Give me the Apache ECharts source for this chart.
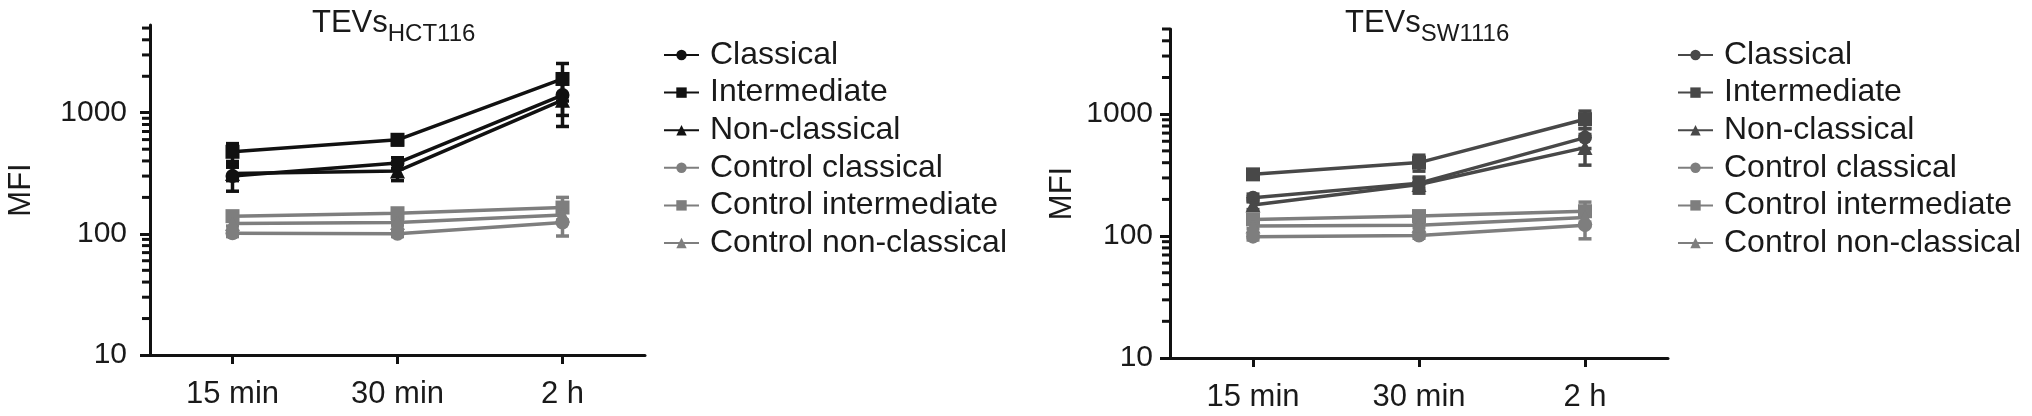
<!DOCTYPE html>
<html><head><meta charset="utf-8">
<script src="https://cdn.jsdelivr.net/npm/echarts@6/dist/echarts.min.js"></script>
<style>html,body{margin:0;padding:0;background:#fff}#c{width:2032px;height:416px}</style>
</head><body><div id="c"></div>
<script>
// ---------- data ----------
const categories = ['15 min', '30 min', '2 h'];
const seriesNames = ['Classical', 'Intermediate', 'Non-classical', 'Control classical', 'Control intermediate', 'Control non-classical'];
const yTickValues = [10, 100, 1000];
const yMinorTickValues = [20, 30, 40, 50, 60, 70, 80, 90, 200, 300, 400, 500, 600, 700, 800, 900, 2000, 3000, 4000, 5000];

// TEVs HCT116 (mean, error)
const hctClassical = [300, 385, 1400];
const hctClassicalErr = [75, 40, 450];
const hctIntermediate = [476, 598, 1900];
const hctIntermediateErr = [80, 55, 650];
const hctNonClassical = [315, 330, 1270];
const hctNonClassicalErr = [40, 55, 500];
const hctCtrlClassical = [101, 100, 124];
const hctCtrlClassicalErr = [6, 5, 28];
const hctCtrlIntermediate = [140, 148, 165];
const hctCtrlIntermediateErr = [8, 8, 35];
const hctCtrlNonClassical = [122, 124, 143];
const hctCtrlNonClassicalErr = [6, 6, 20];

// TEVs SW1116 (mean, error)
const swClassical = [206, 272, 643];
const swClassicalErr = [15, 25, 120];
const swIntermediate = [321, 401, 910];
const swIntermediateErr = [25, 60, 150];
const swNonClassical = [180, 265, 532];
const swNonClassicalErr = [15, 40, 150];
const swCtrlClassical = [99, 101, 123];
const swCtrlClassicalErr = [6, 5, 28];
const swCtrlIntermediate = [137, 146, 160];
const swCtrlIntermediateErr = [8, 8, 30];
const swCtrlNonClassical = [121, 123, 142];
const swCtrlNonClassicalErr = [6, 6, 20];

// ---------- styling ----------
const FONT = 'Liberation Sans, Arial, Helvetica, sans-serif';
const TXT = '#1a1a1a';
const AX = '#111';
const symbols = ['circle', 'rect', 'triangle', 'circle', 'rect', 'triangle'];
const panels = [
  {
    prefix: '', sub: 'HCT116',
    values: [hctClassical, hctIntermediate, hctNonClassical, hctCtrlClassical, hctCtrlIntermediate, hctCtrlNonClassical],
    errors: [hctClassicalErr, hctIntermediateErr, hctNonClassicalErr, hctCtrlClassicalErr, hctCtrlIntermediateErr, hctCtrlNonClassicalErr],
    colors: ['#111111', '#111111', '#111111', '#7e7e7e', '#7e7e7e', '#7e7e7e'],
    grid: {left: 150, top: 25, width: 495, height: 330},
    yMax: 5300, nameGap: 113, labelMargin: 23,
    titleLeft: 312, legendLeft: 658
  },
  {
    prefix: 'SW1116 | ', sub: 'SW1116',
    values: [swClassical, swIntermediate, swNonClassical, swCtrlClassical, swCtrlIntermediate, swCtrlNonClassical],
    errors: [swClassicalErr, swIntermediateErr, swNonClassicalErr, swCtrlClassicalErr, swCtrlIntermediateErr, swCtrlNonClassicalErr],
    colors: ['#484848', '#484848', '#484848', '#7e7e7e', '#7e7e7e', '#7e7e7e'],
    grid: {left: 1170, top: 29, width: 498, height: 329},
    yMax: 5000, nameGap: 92, labelMargin: 17,
    titleLeft: 1345, legendLeft: 1672
  }
];

const option = {
  animation: false,
  backgroundColor: '#fff',
  title: [], grid: [], xAxis: [], yAxis: [], legend: [], series: []
};

panels.forEach((p, pi) => {
  option.grid.push(Object.assign({containLabel: false}, p.grid));
  option.title.push({
    text: '{a|TEVs}{b|' + p.sub + '}',
    left: p.titleLeft, top: 8, padding: 0,
    textStyle: {
      fontWeight: 'normal',
      rich: {
        a: {fontSize: 31, fontFamily: FONT, fontWeight: 'normal', color: TXT, verticalAlign: 'top'},
        b: {fontSize: 24, fontFamily: FONT, fontWeight: 'normal', color: TXT, verticalAlign: 'top', padding: [14, 0, 0, 0]}
      }
    }
  });
  option.xAxis.push({
    type: 'category', gridIndex: pi, data: categories, boundaryGap: true,
    axisLine: {show: true, lineStyle: {color: AX, width: 3}},
    axisTick: {show: true, alignWithLabel: true, length: 9, lineStyle: {color: AX, width: 3}},
    axisLabel: {fontSize: 31, fontFamily: FONT, color: TXT, margin: 24},
    splitLine: {show: false}
  });
  option.yAxis.push({
    type: 'log', logBase: 10, gridIndex: pi, position: 'left', min: 10, max: p.yMax,
    name: 'MFI', nameLocation: 'middle', nameGap: p.nameGap,
    nameTextStyle: {fontSize: 31, fontFamily: FONT, color: TXT},
    axisLine: {show: true, lineStyle: {color: AX, width: 3}},
    axisTick: {show: true, length: 10, customValues: yTickValues, lineStyle: {color: AX, width: 3}},
    axisLabel: {show: true, customValues: yTickValues, fontSize: 30, fontFamily: FONT, color: TXT,
      margin: p.labelMargin, formatter: (v) => String(Math.round(v))},
    splitLine: {show: false}
  });
  const names = seriesNames.map(n => p.prefix + n);
  option.legend.push({
    data: names, orient: 'vertical', left: p.legendLeft, top: 34,
    itemWidth: 35, itemHeight: 13, itemGap: 5.6, selectedMode: false,
    formatter: (name) => name.replace(p.prefix, ''),
    textStyle: {fontSize: 32, fontFamily: FONT, color: TXT, lineHeight: 30, padding: [0, 0, 0, 6]}
  });
  // minor ticks on the log axis, positioned by the axis scale
  option.series.push({
    type: 'custom', name: 'minor ticks ' + pi, xAxisIndex: pi, yAxisIndex: pi, z: 5, silent: true, clip: false,
    data: yMinorTickValues.filter(v => v <= p.yMax).map(v => [0, v]),
    encode: {x: 0, y: 1},
    renderItem: (params, api) => {
      const v = api.value(1);
      const c = api.coord([0, v]);
      const bw = api.size([1, 1], [0, v])[0];
      const x0 = c[0] - bw / 2;
      return {type: 'line', shape: {x1: x0 - 8, y1: c[1], x2: x0, y2: c[1]}, style: {stroke: AX, lineWidth: 3}};
    }
  });
  names.forEach((name, si) => {
    const col = p.colors[si];
    const vals = p.values[si];
    const errs = p.errors[si];
    option.series.push({
      type: 'custom', name: 'err ' + name, xAxisIndex: pi, yAxisIndex: pi, z: 2, silent: true, clip: false,
      data: vals.map((v, i) => [i, v, errs[i]]),
      encode: {x: 0, y: 1},
      renderItem: (params, api) => {
        const x = api.value(0), m = api.value(1), e = api.value(2);
        const t = api.coord([x, m + e]);
        const b = api.coord([x, Math.max(m - e, 10.0001)]);
        const hw = 6.5;
        const st = {stroke: col, lineWidth: 3.5};
        return {type: 'group', children: [
          {type: 'line', shape: {x1: t[0], y1: t[1], x2: b[0], y2: b[1]}, style: st},
          {type: 'line', shape: {x1: t[0] - hw, y1: t[1], x2: t[0] + hw, y2: t[1]}, style: st},
          {type: 'line', shape: {x1: b[0] - hw, y1: b[1], x2: b[0] + hw, y2: b[1]}, style: st}
        ]};
      }
    });
    option.series.push({
      type: 'line', name: name, xAxisIndex: pi, yAxisIndex: pi, z: 3,
      data: vals, symbol: symbols[si], symbolSize: symbols[si] === 'triangle' ? 15 : 14,
      lineStyle: {color: col, width: 3.5}, itemStyle: {color: col},
      emphasis: {disabled: true}
    });
  });
});

const chart = echarts.init(document.getElementById('c'), null, {renderer: 'canvas'});
chart.setOption(option);
</script>
</body></html>
